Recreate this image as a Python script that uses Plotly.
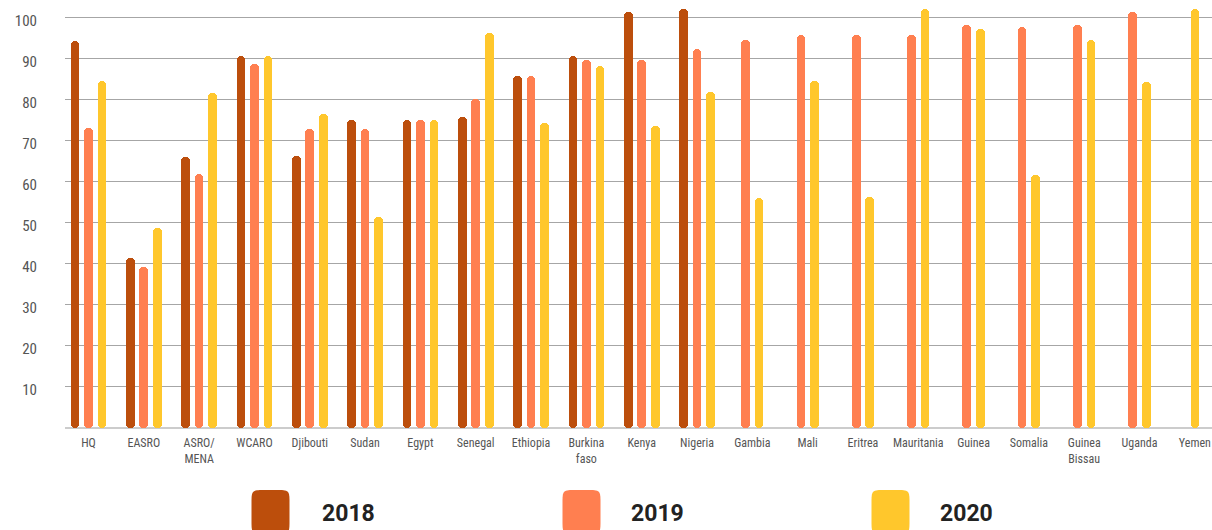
import plotly.graph_objects as go

# ---- data ----
categories = ["HQ", "EASRO", "ASRO/<br>MENA", "WCARO", "Djibouti", "Sudan", "Egypt",
              "Senegal", "Ethiopia", "Burkina<br>faso", "Kenya", "Nigeria", "Gambia",
              "Mali", "Eritrea", "Mauritania", "Guinea", "Somalia", "Guinea<br>Bissau",
              "Uganda", "Yemen"]
years = ["2018", "2019", "2020"]
v2018 = [94.2, 41.5, 66.0, 90.6, 66.2, 75.1, 75.1, 75.8, 85.6, 90.6, 101.3, 102.1,
         None, None, None, None, None, None, None, None, None]
v2019 = [73.0, 39.1, 61.8, 88.7, 72.7, 72.7, 75.1, 80.1, 85.6, 89.6, 89.6, 92.3,
         94.6, 95.6, 95.6, 95.6, 98.1, 97.7, 98.1, 101.3, None]
v2020 = [84.5, 48.7, 81.5, 90.6, 76.5, 51.3, 75.1, 96.2, 74.3, 88.1, 73.5, 81.7,
         55.9, 84.6, 56.2, 102.1, 97.1, 61.5, 94.6, 84.2, 102.1]
y_ticks = [10, 20, 30, 40, 50, 60, 70, 80, 90, 100]

series = [v2018, v2019, v2020]
colors = ["#BC4E0C", "#FF7F50", "#FFC72C"]

# ---- layout constants ----
W, H = 1212, 530
L, R, T, B = 65, 0, 5, 102
step = 0.244      # distance between bars inside a group (category units)
bar_w = 0.157     # bar width (category units)
axis_font = "Liberation Sans Narrow, Roboto Condensed, Arial Narrow, Roboto, sans-serif"

# bars present in a category are centred on it (missing years are skipped)
xs = [[None] * len(categories) for _ in series]
for i in range(len(categories)):
    present = [k for k in range(len(series)) if series[k][i] is not None]
    n = len(present)
    for j, k in enumerate(present):
        xs[k][i] = i + (j - (n - 1) / 2) * step

fig = go.Figure()
for k, (vals, name, col) in enumerate(zip(series, years, colors)):
    px_ = [xs[k][i] for i in range(len(vals)) if vals[i] is not None]
    pv = [v for v in vals if v is not None]
    # upper part, rounded top
    fig.add_trace(go.Bar(x=px_, y=[v * 0.6 for v in pv], base=[v * 0.4 for v in pv],
                         width=bar_w, marker=dict(color=col, cornerradius="50%", line=dict(width=0)),
                         name=name, showlegend=False, hoverinfo="skip"))
    # lower part, rounded bottom
    fig.add_trace(go.Bar(x=px_, y=[-v * 0.6 for v in pv], base=[v * 0.6 for v in pv],
                         width=bar_w, marker=dict(color=col, cornerradius="50%", line=dict(width=0)),
                         name=name, showlegend=False, hoverinfo="skip"))

plot_w = W - L - R
plot_h = H - T - B

# custom legend: rounded blobs + bold labels
legend_blob_x = [270.5, 581.5, 890.5]
legend_text_x = [320, 629, 938]
blob_center_y = 512
bw, bh, cr = 19, 22, 14
blob_path = (f"M {-bw + cr},{bh} L {bw - cr},{bh} C {bw},{bh} {bw},{bh} {bw},{bh - cr} "
             f"L {bw},{-bh + cr} C {bw},{-bh} {bw},{-bh} {bw - cr},{-bh} "
             f"L {-bw + cr},{-bh} C {-bw},{-bh} {-bw},{-bh} {-bw},{-bh + cr} "
             f"L {-bw},{bh - cr} C {-bw},{bh} {-bw},{bh} {-bw + cr},{bh} Z")
shapes, annotations = [], []
for name, col, bx, tx in zip(years, colors, legend_blob_x, legend_text_x):
    shapes.append(dict(type="path", xref="paper", yref="paper",
                       xsizemode="pixel", ysizemode="pixel",
                       xanchor=(bx - L) / plot_w, yanchor=(H - B - blob_center_y) / plot_h,
                       path=blob_path, fillcolor=col, line=dict(width=0)))
    annotations.append(dict(text=f"<b>{name}</b>", xref="paper", yref="paper",
                            x=(tx - L) / plot_w, y=(H - B - 513.5) / plot_h,
                            xanchor="left", yanchor="middle", showarrow=False,
                            font=dict(family="Roboto, sans-serif", size=23, color="#222222")))

fig.update_layout(
    width=W, height=H,
    margin=dict(l=L, r=R, t=T, b=B, pad=0),
    paper_bgcolor="white", plot_bgcolor="white",
    barmode="overlay", bargap=0,
    showlegend=False,
    font=dict(family=axis_font, color="#555555"),
    shapes=shapes, annotations=annotations,
    xaxis=dict(range=[-0.425, 20.31], tickmode="array",
               tickvals=list(range(len(categories))), ticktext=categories,
               showgrid=False, zeroline=False, showline=False, ticks="",
               ticklabelstandoff=6,
               tickfont=dict(family=axis_font, size=12, color="#555555"),
               automargin=False, fixedrange=True),
    yaxis=dict(range=[0, 103], tickmode="array", tickvals=y_ticks,
               showgrid=True, gridcolor="#a6a6a6", gridwidth=1,
               zeroline=True, zerolinecolor="#cccccc", zerolinewidth=2,
               showline=False, ticks="",
               ticklabelstandoff=27, ticklabelshift=3,
               tickfont=dict(family=axis_font, size=15, color="#555555"),
               automargin=False, fixedrange=True),
)

fig.write_html("out.html", config={"displayModeBar": False},
               post_script="document.body.style.margin='0';document.body.style.overflow='hidden';")
